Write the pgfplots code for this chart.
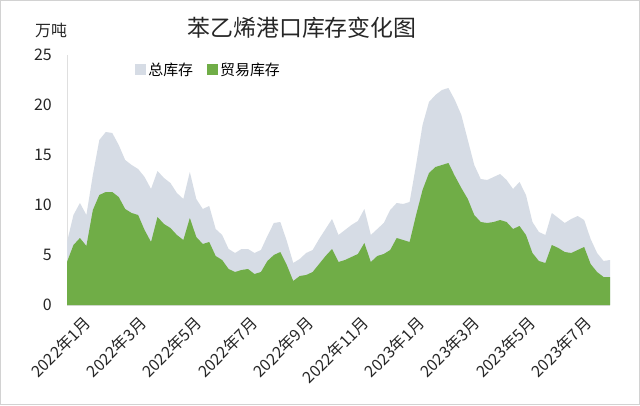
\documentclass[border=0pt]{standalone}
\usepackage{pgfplots}
\pgfplotsset{compat=1.18}
\usepackage{fontspec}
\setmainfont{Noto Sans CJK SC}
\definecolor{totc}{RGB}{214,220,229}
\definecolor{trdc}{RGB}{112,173,71}
\pgfplotsset{sqleg/.style={legend image code/.code={\fill[##1] (0bp,-5.5bp) rectangle (11bp,5.5bp);}}}
\begin{document}
\begin{tikzpicture}[x=1bp,y=1bp]
\fill[white] (0,0) rectangle (640,405);
\draw[gray!35, line width=1bp] (0.5,0.5) rectangle (639.5,404.5);
\begin{axis}[
  at={(67bp,100bp)}, anchor=south west,
  scale only axis, width=543bp, height=250bp,
  xmin=0, xmax=84, ymin=0, ymax=25,
  axis x line=bottom, axis y line=left,
  axis line style={draw=gray!25, -},
  major tick length=0pt,
  ytick={0,5,...,25},
  xtick={0,8.6,17.2,25.8,34.4,43,51.6,60.2,68.8,77.4},
  xticklabels={2022年1月,2022年3月,2022年5月,2022年7月,2022年9月,2022年11月,2023年1月,2023年3月,2023年5月,2023年7月},
  /pgf/number format/assume math mode=true,
  tick label style={font=\fontsize{16}{18}\selectfont, text=black!85},
  yticklabel style={inner sep=0pt, xshift=-15bp},
  xticklabel style={font=\fontsize{16}{18}\selectfont, rotate=45, anchor=north east, inner sep=0pt, xshift=4bp, yshift=-18bp},
  legend style={at={(0.12,0.985)}, anchor=north west, draw=none, fill=none,
    font=\fontsize{15}{17}\selectfont, legend columns=2,
    /tikz/every even column/.append style={column sep=12bp}},
  legend cell align=left,
]
\addplot[fill=totc, draw=none, sqleg] coordinates {
(0,6.3)(1,9.0)(2,10.2)(3,9.0)(4,13.0)(5,16.5)(6,17.3)(7,17.2)(8,16.0)(9,14.5)
(10,14.0)(11,13.6)(12,12.8)(13,11.6)(14,13.4)(15,12.7)(16,12.2)(17,11.2)(18,10.6)(19,13.3)
(20,10.6)(21,9.6)(22,9.9)(23,7.6)(24,7.0)(25,5.6)(26,5.2)(27,5.6)(28,5.6)(29,5.2)
(30,5.5)(31,6.9)(32,8.2)(33,8.3)(34,6.4)(35,4.2)(36,4.6)(37,5.2)(38,5.5)(39,6.6)
(40,7.6)(41,8.6)(42,7.0)(43,7.5)(44,8.0)(45,8.4)(46,9.6)(47,7.0)(48,7.6)(49,8.2)
(50,9.5)(51,10.2)(52,10.1)(53,10.3)(54,14.0)(55,18.0)(56,20.3)(57,21.0)(58,21.5)(59,21.7)
(60,20.5)(61,19.0)(62,16.5)(63,14.0)(64,12.6)(65,12.5)(66,12.8)(67,13.1)(68,12.5)(69,11.6)
(70,12.3)(71,11.0)(72,8.3)(73,7.3)(74,7.0)(75,9.2)(76,8.7)(77,8.2)(78,8.6)(79,8.9)
(80,8.5)(81,6.6)(82,5.2)(83,4.4)(84,4.5)
} \closedcycle;
\addlegendentry{总库存}
\addplot[fill=trdc, draw=none, sqleg] coordinates {
(0,4.3)(1,6.0)(2,6.7)(3,5.9)(4,9.5)(5,11.0)(6,11.3)(7,11.3)(8,10.8)(9,9.6)
(10,9.2)(11,9.0)(12,7.5)(13,6.3)(14,8.8)(15,8.1)(16,7.7)(17,7.0)(18,6.5)(19,8.7)
(20,6.8)(21,6.1)(22,6.3)(23,4.9)(24,4.5)(25,3.6)(26,3.3)(27,3.5)(28,3.6)(29,3.1)
(30,3.3)(31,4.4)(32,5.0)(33,5.3)(34,4.0)(35,2.4)(36,2.9)(37,3.0)(38,3.3)(39,4.1)
(40,4.9)(41,5.6)(42,4.3)(43,4.5)(44,4.8)(45,5.1)(46,6.2)(47,4.3)(48,4.9)(49,5.1)
(50,5.5)(51,6.7)(52,6.5)(53,6.3)(54,9.0)(55,11.5)(56,13.2)(57,13.8)(58,14.0)(59,14.2)
(60,12.9)(61,11.7)(62,10.6)(63,9.0)(64,8.3)(65,8.2)(66,8.3)(67,8.5)(68,8.3)(69,7.6)
(70,7.9)(71,7.0)(72,5.2)(73,4.4)(74,4.2)(75,6.0)(76,5.7)(77,5.3)(78,5.2)(79,5.5)
(80,5.8)(81,4.1)(82,3.3)(83,2.8)(84,2.8)
} \closedcycle;
\addlegendentry{贸易库存}
\end{axis}
\node[font=\fontsize{23}{26}\selectfont, text=black!85] at (302,377) {苯乙烯港口库存变化图};
\node[font=\fontsize{16}{18}\selectfont, text=black!85] at (51,375) {万吨};
\end{tikzpicture}
\end{document}
